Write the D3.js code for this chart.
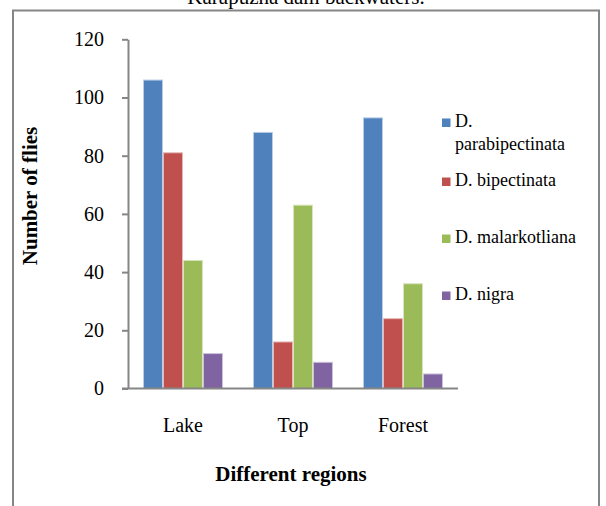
<!DOCTYPE html>
<html>
<head>
<meta charset="utf-8">
<script src="https://cdn.jsdelivr.net/npm/d3@7"></script>
<style>
  html, body { margin: 0; padding: 0; background: #fff; }
  svg { display: block; }
  text { font-family: "Liberation Serif", "Times New Roman", serif; fill: #000; }
</style>
</head>
<body>
<svg id="chart" width="606" height="506"></svg>
<script>
const titleText = "Karapuzha dam backwaters.";
const regions = ["Lake", "Top", "Forest"];
const species = ["D. parabipectinata", "D. bipectinata", "D. malarkotliana", "D. nigra"];
const legendLines = [["D.", "parabipectinata"], ["D. bipectinata"], ["D. malarkotliana"], ["D. nigra"]];
const parabipectinata = [106, 88, 93];
const bipectinata = [81, 16, 24];
const malarkotliana = [44, 63, 36];
const nigra = [12, 9, 5];
const yTicks = [0, 20, 40, 60, 80, 100, 120];
const colors = ["#4F81BD", "#C0504D", "#9BBB59", "#8064A2"];
const edgeColors = ["#B9CDE5", "#E6B9B8", "#D7E4BD", "#CCC1DA"];
const seriesValues = [parabipectinata, bipectinata, malarkotliana, nigra];

const svg = d3.select("#chart");

// outer border
svg.append("rect")
  .attr("x", 13).attr("y", 10.5)
  .attr("width", 586).attr("height", 520)
  .attr("fill", "none").attr("stroke", "#868686").attr("stroke-width", 2);

// title (clipped at top)
svg.append("text")
  .attr("x", 306).attr("y", 4)
  .attr("text-anchor", "middle")
  .style("font-size", "21px")
  .text(titleText);

const x0 = d3.scaleBand().domain(regions).range([128, 458])
  .paddingInner(30 / 110).paddingOuter(15 / 110);
const x1 = d3.scaleBand().domain(species).range([0, x0.bandwidth()]).padding(0);
const y = d3.scaleLinear().domain([0, 120]).range([388.5, 39.3]);

// bars
const groups = svg.append("g").selectAll("g")
  .data(regions).join("g")
  .attr("transform", d => `translate(${x0(d)},0)`);

groups.selectAll("rect")
  .data((r, ri) => species.map((s, si) => ({ s, si, v: seriesValues[si][ri] })))
  .join("rect")
  .attr("x", d => x1(d.s) + 0.5)
  .attr("y", d => y(d.v))
  .attr("width", x1.bandwidth() - 1)
  .attr("height", d => y(0) - y(d.v))
  .attr("fill", d => colors[d.si])
  .attr("stroke", d => edgeColors[d.si])
  .attr("stroke-width", 1);

// y axis
const yAxis = d3.axisLeft(y).tickValues(yTicks).tickSize(6).tickPadding(18).tickSizeOuter(0);
const gy = svg.append("g").attr("transform", "translate(128,0)").call(yAxis);
gy.select(".domain").attr("stroke", "#868686").attr("stroke-width", 2);
gy.selectAll(".tick line").attr("stroke", "#868686").attr("stroke-width", 2);
gy.selectAll(".tick text")
  .style("font-size", "20px")
  .style("font-family", "'Liberation Serif', serif")
  .attr("fill", "#000");

// x axis
const xAxis = d3.axisBottom(x0).tickSize(0).tickSizeOuter(0).tickPadding(0);
const gx = svg.append("g").attr("transform", `translate(0,${y(0)})`).call(xAxis);
gx.select(".domain").attr("stroke", "#868686").attr("stroke-width", 2)
  .attr("d", "M122,0H458");
gx.selectAll(".tick text")
  .attr("dy", null)
  .attr("y", 43.5)
  .style("font-size", "20px")
  .style("font-family", "'Liberation Serif', serif")
  .attr("fill", "#000");

// axis titles
svg.append("text")
  .attr("x", 291).attr("y", 481)
  .attr("text-anchor", "middle")
  .style("font-size", "21px").style("font-weight", "bold")
  .text("Different regions");

svg.append("text")
  .attr("transform", "translate(37,196) rotate(-90)")
  .attr("text-anchor", "middle")
  .style("font-size", "21px").style("font-weight", "bold")
  .text("Number of flies");

// legend
const legendBaselines = [127, 186, 243, 300];
const legend = svg.append("g");
legendLines.forEach((lines, i) => {
  legend.append("rect")
    .attr("x", 442).attr("y", legendBaselines[i] - 8.5)
    .attr("width", 8.5).attr("height", 8.5)
    .attr("fill", colors[i]);
  const t = legend.append("text")
    .attr("x", 455).attr("y", legendBaselines[i])
    .style("font-size", "18px");
  lines.forEach((ln, j) => {
    t.append("tspan").attr("x", 455).attr("dy", j === 0 ? 0 : 23).text(ln);
  });
});
</script>
</body>
</html>
